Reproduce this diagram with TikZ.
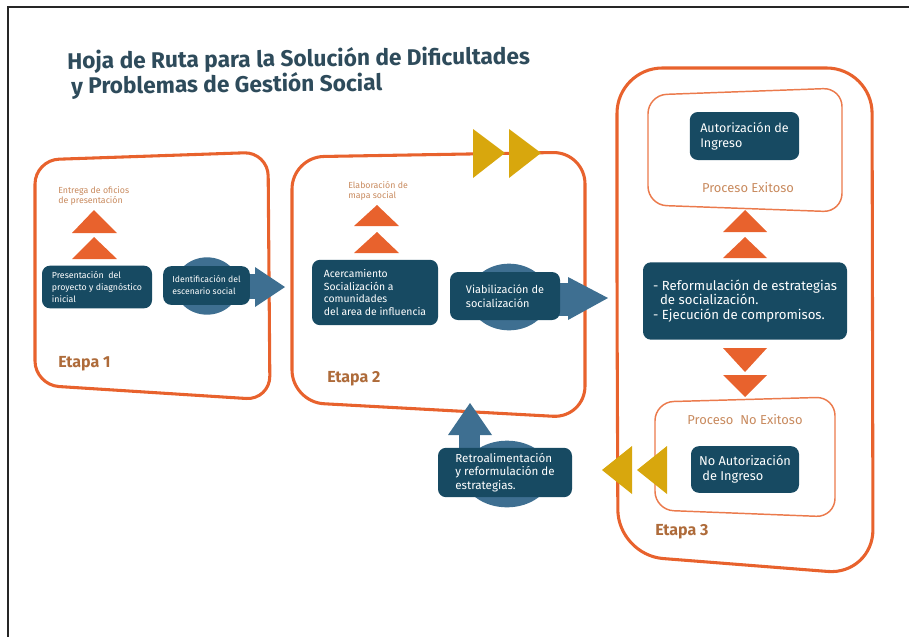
\documentclass[tikz,border=0pt]{standalone}
\usepackage{fontspec}
\setmainfont{Fira Sans}
\definecolor{orng}{HTML}{E8622D}
\definecolor{dteal}{HTML}{174A62}
\definecolor{lblue}{HTML}{3E6F91}
\definecolor{gold}{HTML}{D8A70D}
\definecolor{lbrown}{HTML}{C88A5E}
\definecolor{etapac}{HTML}{AE6B3A}
\definecolor{titlec}{HTML}{2E4B5B}
\tikzset{
  stage/.style={draw=orng, line width=2.3pt, line join=round},
  inner/.style={draw=orng!85, line width=1.1pt},
  dbox/.style={fill=dteal, rounded corners=6pt, text=white, align=left, inner sep=0pt},
  smalltxt/.style={text=lbrown, align=left, font=\fontsize{6.6}{8}\selectfont, inner sep=0pt},
  proc/.style={text=lbrown, font=\fontsize{9.7}{11}\selectfont, inner sep=0pt},
  etapa/.style={text=etapac, font=\fontsize{12}{14}\selectfont\bfseries, inner sep=0pt, anchor=west},
  ttl/.style={text=titlec, font=\fontsize{17}{20}\selectfont\bfseries, inner sep=0pt, anchor=base west, rotate=0.6},
  lb/.style={fill=lblue},
  tri/.style={fill=orng},
  gtri/.style={fill=gold}
}
\begin{document}
\begin{tikzpicture}[x=0.75pt,y=-0.75pt]
\useasboundingbox (0,0) rectangle (909,636);
% frame
\draw[line width=1.6pt, black!85] (8,650) -- (8,7) -- (920,7);
% title
\node[ttl] (t1) at (67,69) {Hoja de Ruta para la Solución de Dificultades};
\node[ttl] (t2) at (71,94) {y Problemas de Gestión Social};

% stage outlines
\draw[stage, rounded corners=18pt] (35,270) -- (35,160) -- (268,152) -- (270,400) -- (35,385) -- cycle;
\draw[stage, rounded corners=24pt] (292,280) -- (292,157) -- (585,152) -- (585,418) -- (292,402) -- cycle;
\draw[stage, rounded corners=34pt] (617,300) -- (617,68) -- (872,68) -- (873,575) -- (618,555) -- cycle;
\draw[inner, rounded corners=14pt] (648,150) -- (648,95) -- (842,88) -- (842,212) -- (648,205) -- cycle;
\draw[inner, rounded corners=14pt] (655,450) -- (655,402) -- (835,397) -- (835,517) -- (655,510) -- cycle;

% gold arrows on top of Etapa 2
\fill[gtri] (473,129) -- (505,153) -- (473,178) -- cycle;
\fill[gtri] (509,129) -- (541,153) -- (509,178) -- cycle;
% gold arrows pointing left
\fill[gtri] (667,446) -- (637,470) -- (667,494) -- cycle;
\fill[gtri] (632,446) -- (602,470) -- (632,494) -- cycle;

% ---- Etapa 1
\node[smalltxt, anchor=north west] (e1t) at (58,186) {Entrega de oficios\\de presentación};
\fill[tri] (94,210) -- (117,233) -- (72,233) -- cycle;
\fill[tri] (94,237) -- (117,259) -- (72,259) -- cycle;
\node[dbox, minimum width=82.5pt, minimum height=32pt, font=\fontsize{6.6}{9.3}\selectfont] (pres) at (97,287) {Presentación \ del\\proyecto y diagnóstico\\inicial};
\fill[lb] (207,286) ellipse [x radius=24pt, y radius=21.5pt];
\fill[lb] (244,274) rectangle (256,299);
\fill[lb] (255,267) -- (285,287) -- (255,307) -- cycle;
\node[dbox, minimum width=65pt, minimum height=29pt, font=\fontsize{6.5}{9}\selectfont] (ident) at (206.5,285.5) {Identificación del\\escenario social};
\node[etapa] (et1) at (58,364) {Etapa 1};

% ---- Etapa 2
\node[smalltxt, anchor=north west] (e2t) at (348,181) {Elaboración de\\mapa social};
\fill[tri] (377,205) -- (399,226) -- (354,226) -- cycle;
\fill[tri] (377,232) -- (399,253) -- (354,253) -- cycle;
\node[dbox, minimum width=94.5pt, minimum height=49pt, font=\fontsize{7.8}{9.6}\selectfont] (acer) at (375,292.5) {Acercamiento\\Socialización a\\comunidades\\del area de influencia};
\fill[lb] (509,297) ellipse [x radius=30pt, y radius=25pt];
\fill[lb] (558,283) rectangle (569,316);
\fill[lb] (568,277) -- (608,298) -- (568,320) -- cycle;
\node[dbox, minimum width=82.5pt, minimum height=36pt, font=\fontsize{8.2}{10.5}\selectfont] (viab) at (505,296) {Viabilización de\\socialización};
\node[etapa] (et2) at (327,379) {Etapa 2};

% ---- feedback
\fill[lb] (507,474) ellipse [x radius=33pt, y radius=25pt];
\fill[lb] (459,433) rectangle (480,452);
\fill[lb] (448,435) -- (470,403) -- (492,435) -- cycle;
\node[dbox, minimum width=100.5pt, minimum height=37pt, font=\fontsize{8.7}{10.2}\selectfont] (retro) at (505,472.5) {Retroalimentación\\y reformulación de\\estrategias.};

% ---- Etapa 3
\node[dbox, minimum width=82pt, minimum height=36pt, font=\fontsize{9.4}{11.2}\selectfont] (aut) at (744.5,136) {Autorización de\\Ingreso};
\node[proc] (pex) at (748,188) {Proceso Exitoso};
\fill[tri] (745,210) -- (767,232) -- (723,232) -- cycle;
\fill[tri] (745,237) -- (767,258) -- (723,258) -- cycle;
\node[dbox, minimum width=153pt, minimum height=58pt, font=\fontsize{9.9}{10.8}\selectfont] (refo) at (745,301) {- Reformulación de estrategias\\\ \ de socialización.\\- Ejecución de compromisos.};
\fill[tri] (723,348) -- (767,348) -- (745,372) -- cycle;
\fill[tri] (723,375) -- (767,375) -- (745,397) -- cycle;
\node[proc] (pnex) at (745,420) {Proceso \ No Exitoso};
\node[dbox, minimum width=81pt, minimum height=35pt, font=\fontsize{9.6}{11}\selectfont] (noaut) at (745,469.5) {No Autorización\\\ de Ingreso};
\node[etapa] (et3) at (655,532) {Etapa 3};
\end{tikzpicture}
\end{document}
